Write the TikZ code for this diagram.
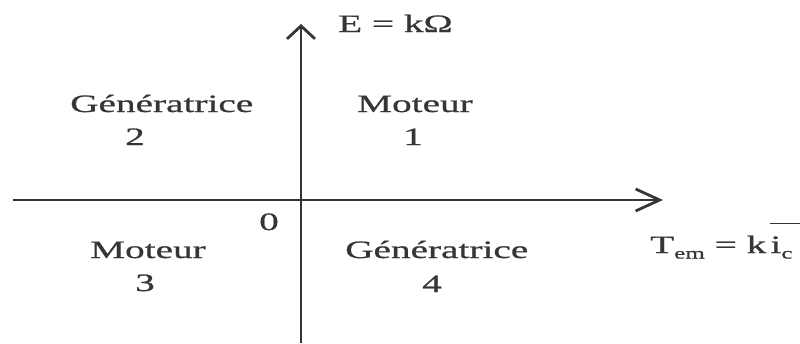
\documentclass[tikz,border=0pt]{standalone}
\usepackage{fontspec}
\setmainfont{Liberation Serif}[FakeStretch=1.57,FakeBold=0.8]
\usetikzlibrary{arrows.meta}
\definecolor{ink}{HTML}{353535}
\tikzset{
  axis/.style={draw=ink, line width=2.8pt},
  lbl/.style={text=ink, font=\fontsize{25}{27}\selectfont, inner sep=0pt, anchor=base west},
  num/.style={text=ink, font=\fontsize{25}{27}\selectfont, inner sep=0pt, anchor=base},
}
\begin{document}
\begin{tikzpicture}[x=1pt,y=-1pt]
\useasboundingbox (0,0) rectangle (800,343);
\coordinate (hs) at (13,200);
\coordinate (he) at (663,200);
\coordinate (vs) at (301,343);
\coordinate (ve) at (301,24);
\draw[axis, -{Straight Barb[length=24pt,width=22pt,line width=2.8pt]}] (hs) -- (he);
\draw[axis, -{Straight Barb[length=13pt,width=28pt,line width=2.8pt]}] (vs) -- (ve);
\node[lbl] (E) at (338,32) {E = kΩ};
\node[lbl] (g2) at (70,112) {Génératrice};
\node[num] (n2) at (135,145) {2};
\node[lbl] (m1) at (357,112) {Moteur};
\node[num] (n1) at (413,145) {1};
\node[num] (zero) at (269,230) {0};
\node[lbl] (m3) at (90,258) {Moteur};
\node[num] (n3) at (145,291) {3};
\node[lbl] (g4) at (345,258) {Génératrice};
\node[num] (n4) at (432,292) {4};
\node[lbl] (T) at (650,253) {T\raisebox{-0.22em}{\fontsize{16}{16}\selectfont em} = k\,\rlap{\raisebox{1.15em}{\color{ink}\rule{2em}{1.4pt}}}i\raisebox{-0.22em}{\fontsize{16}{16}\selectfont c}};
\end{tikzpicture}
\end{document}
